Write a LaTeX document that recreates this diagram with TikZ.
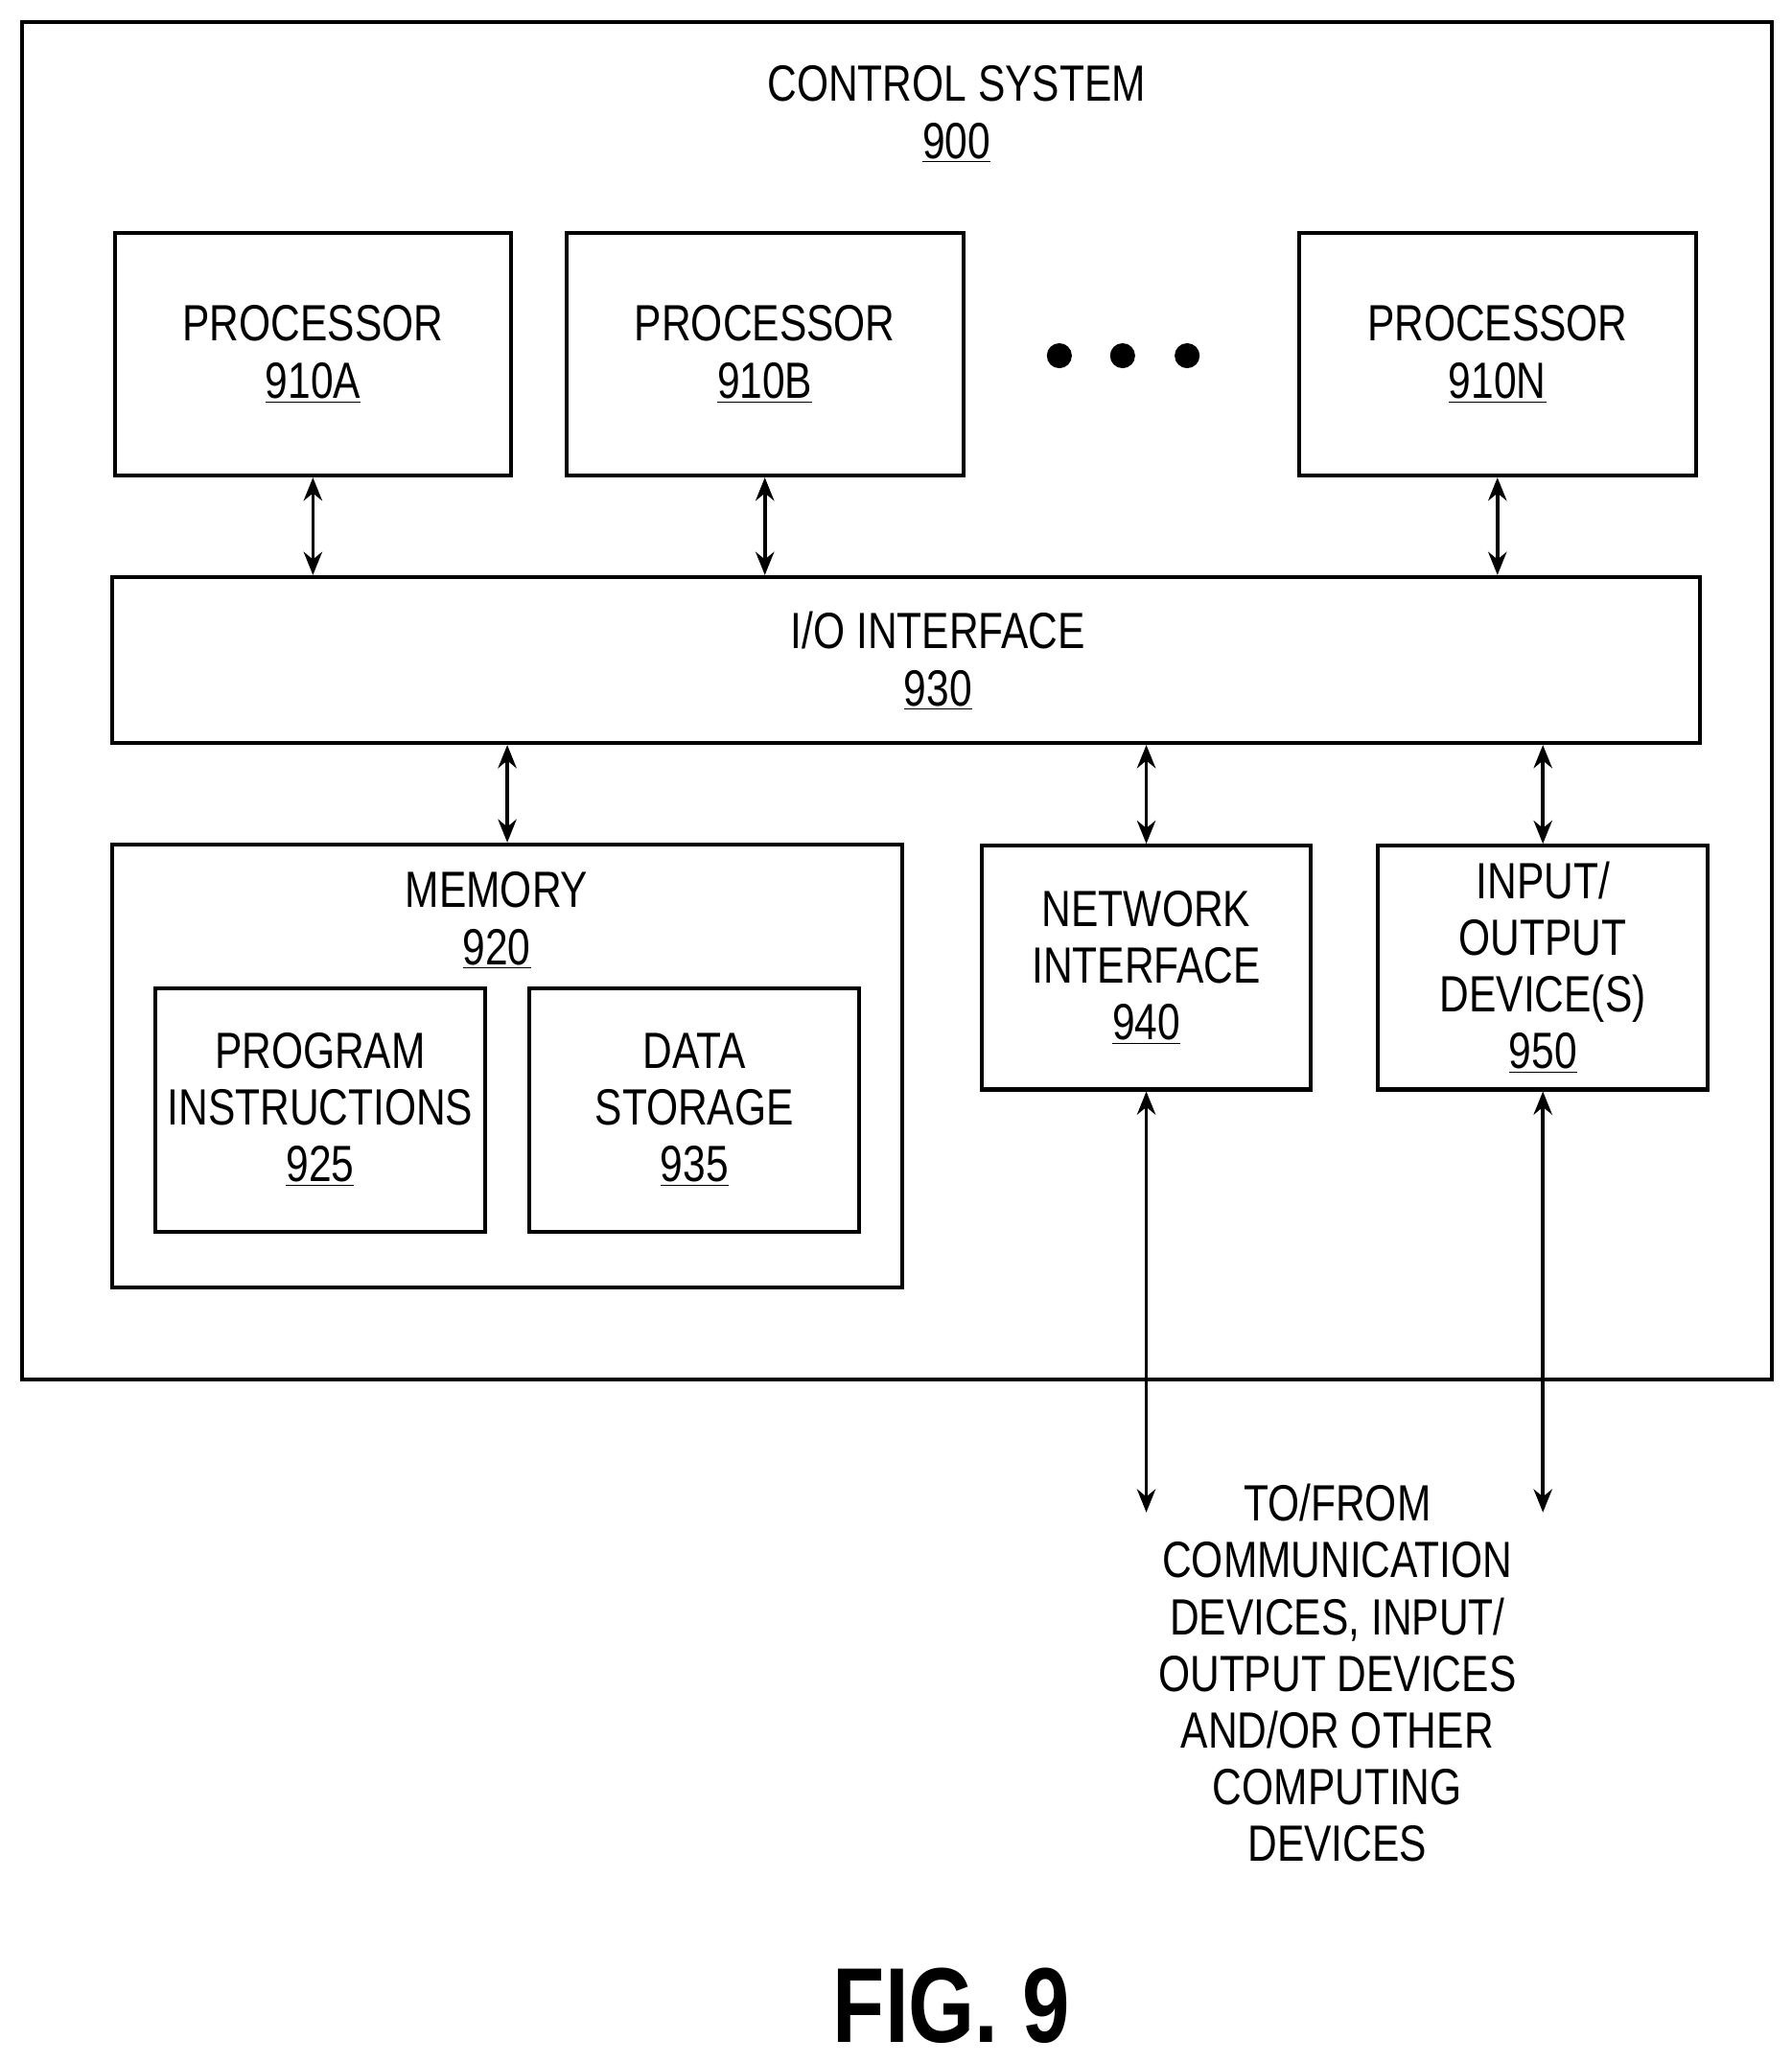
\documentclass[tikz,border=0pt]{standalone}
\usepackage{fontspec}
\setmainfont{Liberation Sans}[FakeStretch=0.8]
\usetikzlibrary{arrows.meta}
\begin{document}
\begin{tikzpicture}[>={Stealth[length=10pt,width=8pt]}, every node/.style={align=center, font=\fontsize{22}{24.5}\selectfont},
    blk/.style={draw, line width=1.7pt, inner sep=0pt}]
    \useasboundingbox (0,0) rectangle (27.2,-31.32);
    % Outer box
    \node (ctrl) [blk, minimum width=26.56cm, minimum height=20.6cm] at (13.62,-10.64) {};
    \node (title) at (14.52,-1.74) {CONTROL SYSTEM\\\underline{900}};

    % Processors
    \node (procA) [blk, minimum width=6.02cm, minimum height=3.68cm] at (4.75,-5.38) {PROCESSOR\\\underline{910A}};
    \node (procB) [blk, minimum width=6.02cm, minimum height=3.68cm] at (11.61,-5.38) {PROCESSOR\\\underline{910B}};
    \node (procN) [blk, minimum width=6.02cm, minimum height=3.68cm] at (22.73,-5.38) {PROCESSOR\\\underline{910N}};
    \foreach \x in {16.08,17.04,18.02}
        \fill (\x,-5.4) circle (0.19);

    % I/O interface
    \node (io) [blk, minimum width=24.1cm, minimum height=2.52cm] at (13.75,-10.02) {};
    \node (iolbl) at (14.24,-10.04) {I/O INTERFACE\\\underline{930}};

    % Memory
    \node (mem) [blk, minimum width=12cm, minimum height=6.72cm] at (7.7,-16.18) {};
    \node (memlbl) at (7.54,-13.98) {MEMORY\\\underline{920}};
    \node (prog) [blk, minimum width=5cm, minimum height=3.7cm] at (4.86,-16.85) {PROGRAM\\INSTRUCTIONS\\\underline{925}};
    \node (data) [blk, minimum width=5cm, minimum height=3.7cm] at (10.54,-16.85) {DATA\\STORAGE\\\underline{935}};

    % Interfaces
    \node (net) [blk, minimum width=5cm, minimum height=3.7cm] at (17.4,-14.69) {NETWORK\\INTERFACE\\\underline{940}};
    \node (iod) [blk, minimum width=5cm, minimum height=3.7cm] at (23.42,-14.69) {INPUT/\\OUTPUT\\DEVICE(S)\\\underline{950}};

    % Arrows
    \foreach \p in {procA,procB,procN}
        \draw[<->, line width=1.5pt] (\p.south) -- (\p.south |- io.north);
    \foreach \p in {mem,net,iod}
        \draw[<->, line width=1.5pt] (\p.north) -- (\p.north |- io.south);
    \coordinate (netend) at (17.4,-22.96);
    \coordinate (iodend) at (23.42,-22.96);
    \draw[<->, line width=1.5pt] (net.south) -- (netend);
    \draw[<->, line width=1.5pt] (iod.south) -- (iodend);
    \node (ext) at (20.3,-25.4) {TO/FROM\\COMMUNICATION\\DEVICES, INPUT/\\OUTPUT DEVICES\\AND/OR OTHER\\COMPUTING\\DEVICES};

    \node (fig) [font=\fontsize{46}{50}\selectfont\bfseries] at (14.44,-30.45) {FIG. 9};
\end{tikzpicture}
\end{document}
